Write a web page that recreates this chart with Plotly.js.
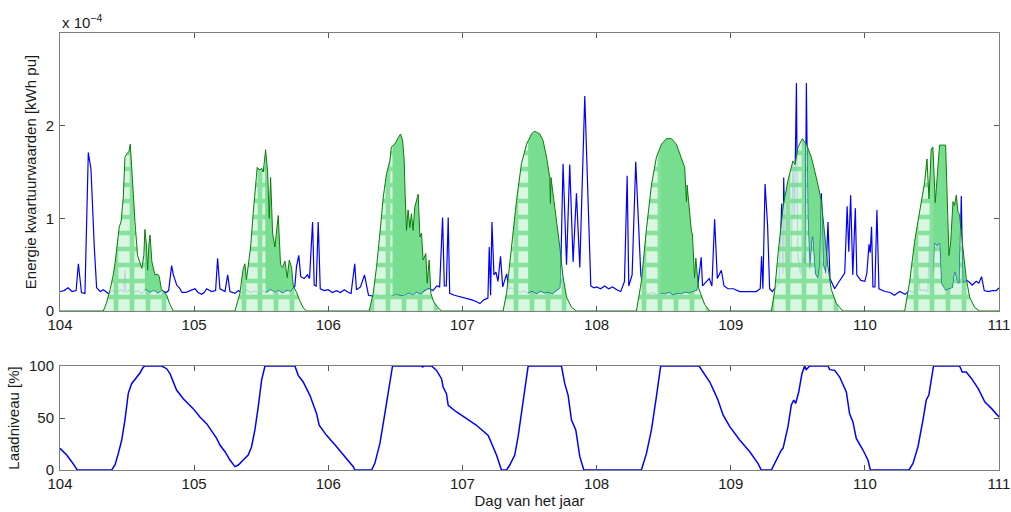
<!DOCTYPE html>
<html><head><meta charset="utf-8">
<script src="https://cdn.plot.ly/plotly-3.0.1.min.js"></script>
<style>html,body{margin:0;padding:0;background:#fff}#chart{width:1011px;height:512px}</style>
</head><body><div id="chart"></div>
<script>
// Consumption (quarter-hour energy), in units of 1e-4 kWh pu
const consTime = [104.00,104.03,104.06,104.09,104.12,104.137,104.16,104.186,104.211,104.231,104.256,104.273,104.30,104.323,104.36,
 104.39,104.42,104.45,104.475,104.485,104.49,104.52,104.55,104.58,104.61,104.64,104.67,104.70,104.73,104.76,104.79,104.81,
 104.832,104.845,104.87,104.89,104.91,104.94,104.97,105.006,105.03,105.056,105.075,105.093,105.13,105.16,105.175,105.192,105.23,105.25,105.267,105.304,
 105.33,105.36,105.39,105.42,105.45,105.48,105.51,105.54,105.57,105.60,105.63,105.66,105.69,105.72,
 105.751,105.763,105.78,105.795,105.82,105.845,105.86,105.883,105.895,105.91,105.925,105.94,105.97,106.00,106.03,106.06,106.09,106.12,106.15,106.17,
 106.197,106.21,106.24,106.27,106.30,106.33,106.36,106.39,106.42,106.45,106.48,106.51,106.54,106.57,106.60,106.63,106.66,106.69,106.72,106.75,
 106.78,106.81,106.83,106.852,106.865,106.88,106.894,106.905,106.94,106.97,107.00,107.03,107.07,107.106,107.13,107.16,107.19,
 107.20,107.21,107.22,107.235,107.25,107.265,107.284,107.30,107.33,107.345,107.37,107.40,107.43,107.46,107.49,107.52,107.55,107.58,107.61,107.64,107.67,107.70,107.73,
 107.75,107.776,107.80,107.825,107.85,107.875,107.912,107.937,107.957,107.98,108.00,108.03,108.06,108.09,108.12,108.15,108.18,
 108.208,108.228,108.24,108.265,108.292,108.31,108.33,108.36,108.39,108.42,108.45,108.48,108.51,108.54,108.57,108.60,108.63,108.66,108.69,108.72,108.75,
 108.78,108.79,108.82,108.84,108.86,108.88,108.90,108.93,108.95,108.98,109.02,109.067,109.10,109.13,109.16,109.19,109.22,
 109.23,109.24,109.256,109.275,109.29,109.31,109.33,109.36,109.38,109.39,109.395,109.41,109.43,109.45,109.464,109.475,109.49,109.50,109.52,109.54,109.555,
 109.564,109.575,109.59,109.61,109.63,109.65,109.665,109.676,109.69,109.71,109.725,109.74,109.775,109.80,109.82,109.85,
 109.868,109.88,109.894,109.91,109.929,109.94,109.97,110.00,110.015,110.031,110.04,110.05,110.06,110.075,110.09,110.105,110.15,110.19,110.22,110.26,110.30,
 110.33,110.36,110.39,110.40,110.41,110.44,110.47,110.483,110.49,110.51,110.52,110.54,110.557,110.57,110.60,110.63,110.655,110.67,110.69,110.705,
 110.719,110.73,110.76,110.78,110.80,110.83,110.85,110.87,110.89,110.92,110.95,110.98,111.00];
const consValue = [0.21,0.22,0.25,0.21,0.22,0.51,0.20,0.19,1.71,1.53,0.68,0.25,0.21,0.23,0.19,
 0.22,0.20,0.23,0.21,0.44,0.20,0.23,0.20,0.22,0.19,0.23,0.20,0.22,0.19,0.22,0.20,0.22,
 0.49,0.39,0.28,0.25,0.20,0.20,0.22,0.24,0.20,0.18,0.20,0.24,0.21,0.22,0.57,0.24,0.21,0.39,0.21,0.19,
 0.22,0.19,0.23,0.20,0.22,0.19,0.22,0.20,0.23,0.20,0.22,0.19,0.22,0.21,
 0.27,0.48,0.60,0.37,0.35,0.39,0.35,0.96,0.28,0.27,0.96,0.24,0.22,0.23,0.20,0.22,0.20,0.23,0.20,0.19,
 0.51,0.23,0.26,0.39,0.17,0.16,0.18,0.15,0.17,0.18,0.16,0.18,0.16,0.17,0.19,0.17,0.20,0.18,0.22,0.24,
 0.22,0.27,0.26,1.01,0.27,0.27,1.01,0.19,0.17,0.16,0.15,0.14,0.12,0.10,0.08,0.12,0.14,
 0.69,0.17,0.96,0.39,0.42,0.32,0.59,0.26,0.40,0.24,0.25,0.22,0.20,0.22,0.19,0.21,0.18,0.21,0.19,0.20,0.18,0.22,0.25,
 1.59,0.50,1.58,0.53,1.27,0.47,2.32,1.14,0.27,0.25,0.26,0.24,0.27,0.24,0.26,0.23,0.21,
 0.32,1.46,0.27,0.39,1.61,1.07,0.39,0.20,0.18,0.20,0.17,0.19,0.18,0.20,0.17,0.19,0.18,0.20,0.19,0.21,0.22,
 0.58,0.27,0.32,0.35,0.27,0.99,0.35,0.44,0.27,0.24,0.24,0.21,0.21,0.21,0.21,0.21,0.24,
 0.59,0.24,1.37,0.92,0.24,0.21,0.25,0.30,1.16,0.40,1.44,0.45,0.35,0.50,1.60,1.00,2.46,0.60,0.40,0.60,0.50,
 2.46,1.00,0.45,0.80,0.40,0.35,0.50,1.27,0.50,0.40,0.96,0.35,0.24,0.30,0.35,0.41,
 1.13,0.64,1.25,0.39,1.11,0.39,0.33,0.32,0.41,0.72,0.63,0.91,0.26,0.26,1.09,0.24,0.21,0.20,0.17,0.21,0.18,
 0.22,0.20,0.23,0.39,0.22,0.23,0.21,0.82,0.25,0.30,0.73,0.70,0.73,0.30,0.22,0.24,0.25,0.42,0.30,0.30,
 1.24,0.30,0.33,0.31,0.28,0.32,0.30,0.37,0.22,0.21,0.22,0.22,0.25];

// PV production, in units of 1e-4 kWh pu
const pvTime = [104.00,104.323,104.345,104.373,104.397,104.41,104.442,104.455,104.472,104.484,104.50,104.514,104.524,104.54,104.559,104.578,104.596,104.61,104.625,104.633,104.645,104.653,104.662,104.671,104.685,104.708,104.725,104.74,104.755,104.795,104.82,104.844,
 105.304,105.341,105.365,105.378,105.39,105.421,105.44,105.47,105.49,105.503,105.515,105.533,105.548,105.56,105.57,105.585,105.602,105.627,105.644,105.659,105.677,105.694,105.709,105.726,105.739,105.764,105.788,105.815,105.838,
 106.305,106.335,106.36,106.385,106.41,106.434,106.459,106.47,106.496,106.521,106.539,106.554,106.566,106.573,106.583,106.595,106.608,106.62,106.632,106.645,106.657,106.67,106.683,106.695,106.707,106.727,106.737,106.752,106.765,106.782,106.81,106.844,
 107.303,107.329,107.366,107.403,107.44,107.478,107.515,107.535,107.552,107.577,107.601,107.627,107.651,107.656,107.66,107.676,107.701,107.726,107.75,107.776,107.813,107.85,
 108.297,108.334,108.372,108.409,108.446,108.484,108.521,108.558,108.595,108.633,108.657,108.67,108.675,108.707,108.715,108.73,108.74,108.76,108.78,108.806,108.843,
 109.303,109.328,109.353,109.39,109.427,109.464,109.48,109.502,109.534,109.564,109.601,109.638,109.676,109.70,109.725,109.75,109.788,109.837,
 110.297,110.334,110.371,110.408,110.446,110.463,110.478,110.495,110.507,110.525,110.544,110.557,110.602,110.614,110.627,110.64,110.657,110.668,110.682,110.694,110.706,110.731,110.756,110.781,110.818,110.855,111.00];
const pvValue = [0,0,0.08,0.23,0.39,0.51,0.91,0.96,1.23,1.66,1.70,1.72,1.80,1.35,0.96,0.60,0.53,0.46,0.60,0.88,0.70,0.44,0.70,0.82,0.53,0.39,0.40,0.37,0.24,0.17,0.07,0,
 0,0.19,0.45,0.51,0.34,0.69,1.05,1.55,1.52,1.54,1.50,1.74,1.50,1.00,1.44,0.84,0.69,1.03,0.50,0.47,0.54,0.36,0.55,0.47,0.27,0.20,0.11,0.03,0,
 0,0.19,0.48,0.84,1.23,1.48,1.62,1.77,1.80,1.87,1.91,1.84,1.62,1.26,0.87,1.09,0.90,1.05,0.87,1.12,1.20,1.26,0.80,0.84,0.55,0.62,0.30,0.55,0.19,0.11,0.05,0,
 0,0.19,0.69,1.19,1.59,1.80,1.91,1.94,1.93,1.91,1.84,1.66,1.44,1.16,1.44,1.26,1.01,0.69,0.37,0.15,0.04,0,
 0,0.32,0.89,1.36,1.66,1.80,1.86,1.86,1.80,1.64,1.55,1.18,1.36,0.86,0.82,0.36,0.57,0.25,0.18,0.07,0,
 0,0.22,0.62,1.12,1.41,1.62,1.58,1.77,1.86,1.80,1.66,1.44,1.19,0.83,0.48,0.23,0.08,0,
 0,0.32,0.75,1.07,1.39,1.64,1.21,1.75,1.77,1.17,1.50,1.79,1.79,1.29,0.60,0.75,1.18,1.14,1.25,1.07,1.04,0.68,0.35,0.15,0.04,0,0];

// Battery state of charge [%]
const socTime = [104.00,104.05,104.087,104.129,104.385,104.41,104.435,104.46,104.484,104.509,104.534,104.571,104.596,104.621,104.633,104.758,104.795,104.82,104.844,104.87,104.919,104.993,105.043,105.093,105.168,105.192,105.23,105.267,105.304,
 105.329,105.366,105.403,105.428,105.453,105.478,105.503,105.528,105.751,105.776,105.813,105.863,105.888,105.913,105.932,105.987,106.062,106.136,106.186,106.198,
 106.323,106.347,106.385,106.422,106.459,106.479,106.698,106.703,106.708,106.77,106.807,106.844,106.856,106.881,106.894,106.956,107.031,107.105,107.192,107.217,107.254,107.291,
 107.329,107.353,107.39,107.415,107.452,107.49,107.738,107.763,107.788,107.813,107.845,107.875,107.905,
 108.334,108.372,108.409,108.446,108.478,108.764,108.794,108.844,108.873,108.905,108.943,108.993,109.067,109.142,109.203,109.228,
 109.303,109.34,109.378,109.39,109.427,109.452,109.47,109.484,109.507,109.531,109.551,109.563,109.589,109.725,109.738,109.775,109.812,109.862,109.886,109.911,109.936,109.986,110.023,110.041,
 110.329,110.359,110.396,110.433,110.458,110.477,110.512,110.706,110.726,110.756,110.796,110.845,110.895,110.945,111.00];
const socValue = [20.8,14.4,8,0,0,4.8,16,28.8,48,73.7,83,89.4,93.3,99,100,100,97.4,92.6,84.6,76.6,68.6,59,51,44.6,30.4,24,17.6,9.6,3.2,
 4.8,9.6,14.4,22.4,38.5,60.9,86.5,100,100,91,84.6,71.8,62.2,54.2,43,33.3,22.4,11.2,3.2,0,
 0,6.4,25.6,54.5,86.5,100,100,98.5,100,100,95.8,87.8,79.8,73.4,62.2,55.8,49.4,43,33.3,25.6,14.4,0,
 0,4.8,14.4,32,67.3,100,100,83,71.8,48,38.5,12.8,0,
 0,16,38.5,70.5,100,100,94.2,84.6,76.6,67.3,52.9,41.7,28.8,17.6,6.4,0,
 0,9.6,19.2,20.8,41.7,62.5,67.3,64,75,92.6,100,96.5,100,100,96.5,95.8,89.4,75,54.2,46.2,30.4,19.2,9.6,0,
 0,6.4,22.4,48,67.3,72,100,100,94.2,94.2,87.8,78.2,65.4,59,51];

const dayTicks = [104,105,106,107,108,109,110,111];
const energyTicks = [0,1,2];
const socTicks = [0,50,100];

function interp(xs, ys, x) {
  if (x <= xs[0]) return ys[0];
  if (x >= xs[xs.length-1]) return ys[ys.length-1];
  let lo = 0, hi = xs.length-1;
  while (hi - lo > 1) { const m = (lo+hi) >> 1; if (xs[m] <= x) lo = m; else hi = m; }
  const f = (x - xs[lo]) / (xs[hi] - xs[lo]);
  return ys[lo] + f * (ys[hi] - ys[lo]);
}
const pvAt = t => interp(pvTime, pvValue, t);
const consAt = t => interp(consTime, consValue, t);

// PV used locally (battery charging until full, then self-consumption)
const usedX = [], usedY = [];
for (let i = 0; i < pvTime.length - 1; i++) {
  if (pvValue[i] === 0 && pvValue[i+1] > 0) {
    const start = pvTime[i];
    let j = i + 1; while (j < pvTime.length && pvValue[j] !== 0) j++;
    const end = pvTime[j];
    let full = end;
    for (let k = 0; k < socTime.length; k++) {
      if (socTime[k] >= start && socTime[k] <= end && socValue[k] >= 100) { full = socTime[k]; break; }
    }
    const set = new Set();
    pvTime.forEach(t => { if (t >= start && t <= end) set.add(t); });
    consTime.forEach(t => { if (t > start && t < end) set.add(t); });
    set.add(full);
    const ts = Array.from(set).sort((a,b) => a-b);
    for (let k = 0; k < ts.length; k++) {
      const t = ts[k];
      if (t < full) { usedX.push(t); usedY.push(pvAt(t)); }
      else if (t === full) { usedX.push(t); usedY.push(pvAt(t)); usedX.push(t); usedY.push(Math.min(pvAt(t), consAt(t))); }
      else { usedX.push(t); usedY.push(Math.min(pvAt(t), consAt(t))); }
      if (t >= full && k + 1 < ts.length) {
        const t2 = ts[k+1];
        const d1 = pvAt(t) - consAt(t), d2 = pvAt(t2) - consAt(t2);
        if (d1 * d2 < 0) { const tc = t + (t2 - t) * d1 / (d1 - d2); usedX.push(tc); usedY.push(pvAt(tc)); }
      }
    }
    i = j - 1;
  }
}

const FONT = 'Liberation Sans, Arial, Helvetica, sans-serif';
const traces = [
  {x: consTime, y: consValue, type: 'scatter', mode: 'lines', line: {color: '#0000ff', width: 1.2}, xaxis: 'x', yaxis: 'y', hoverinfo: 'skip'},
  {x: pvTime, y: pvValue, type: 'scatter', mode: 'lines', fill: 'tozeroy', fillcolor: 'rgba(8,193,51,0.55)', line: {width: 0, color: 'rgba(0,0,0,0)'}, xaxis: 'x', yaxis: 'y', hoverinfo: 'skip'},
  {x: usedX, y: usedY, type: 'scatter', mode: 'lines', fill: 'tozeroy', fillcolor: 'rgba(0,0,0,0)',
   fillpattern: {shape: '+', size: 16, solidity: 0.5, bgcolor: 'rgba(255,255,255,0.72)', fgcolor: 'rgb(120,221,144)', fgopacity: 0.85, fillmode: 'overlay'},
   line: {width: 0, color: 'rgba(0,0,0,0)'}, xaxis: 'x', yaxis: 'y', hoverinfo: 'skip'},
  {x: pvTime, y: pvValue, type: 'scatter', mode: 'lines', line: {color: '#0a7d0a', width: 1}, xaxis: 'x', yaxis: 'y', hoverinfo: 'skip'},
  {x: socTime, y: socValue, type: 'scatter', mode: 'lines', line: {color: '#0000ff', width: 1.5}, xaxis: 'x2', yaxis: 'y2', hoverinfo: 'skip'}
];

const axisCommon = {
  showline: true, linecolor: '#7f7f7f', linewidth: 1, mirror: 'ticks',
  ticks: 'inside', ticklen: 5, tickcolor: '#555', tickwidth: 1,
  showgrid: false, zeroline: false, tickfont: {family: FONT, size: 15, color: '#1a1a1a'}
};
const xd = [60/1011, 999/1011];
const layout = {
  width: 1011, height: 512, margin: {l: 0, r: 0, t: 0, b: 0},
  paper_bgcolor: '#ffffff', plot_bgcolor: '#ffffff', showlegend: false,
  font: {family: FONT, size: 15, color: '#1a1a1a'},
  xaxis: Object.assign({}, axisCommon, {domain: xd, range: [104, 111], tickmode: 'array', tickvals: dayTicks, ticktext: dayTicks.map(String), anchor: 'y'}),
  yaxis: Object.assign({}, axisCommon, {domain: [(512-311)/512, (512-33)/512], range: [0, 3], tickmode: 'array', tickvals: energyTicks, ticktext: energyTicks.map(String), anchor: 'x',
    ticklabelstandoff: 2,
    title: {text: 'Energie kwartuurwaarden [kWh pu]', font: {family: FONT, size: 15, color: '#1a1a1a'}, standoff: 5}}),
  xaxis2: Object.assign({}, axisCommon, {domain: xd, range: [104, 111], tickmode: 'array', tickvals: dayTicks, ticktext: dayTicks.map(String), anchor: 'y2',
    title: {text: 'Dag van het jaar', font: {family: FONT, size: 15, color: '#1a1a1a'}, standoff: 4}}),
  yaxis2: Object.assign({}, axisCommon, {domain: [(512-470)/512, (512-366)/512], range: [0, 100], tickmode: 'array', tickvals: socTicks, ticktext: socTicks.map(String), anchor: 'x2',
    ticklabelstandoff: 2,
    title: {text: 'Laadniveau [%]', font: {family: FONT, size: 15, color: '#1a1a1a'}, standoff: 5}}),
  annotations: [{text: 'x 10<sup>−4</sup>', xref: 'paper', yref: 'paper', x: 60/1011, y: (512-21)/512, xanchor: 'left', yanchor: 'middle', showarrow: false, font: {family: FONT, size: 15, color: '#1a1a1a'}}]
};
Plotly.newPlot('chart', traces, layout, {displayModeBar: false, staticPlot: true});
</script>
</body></html>
